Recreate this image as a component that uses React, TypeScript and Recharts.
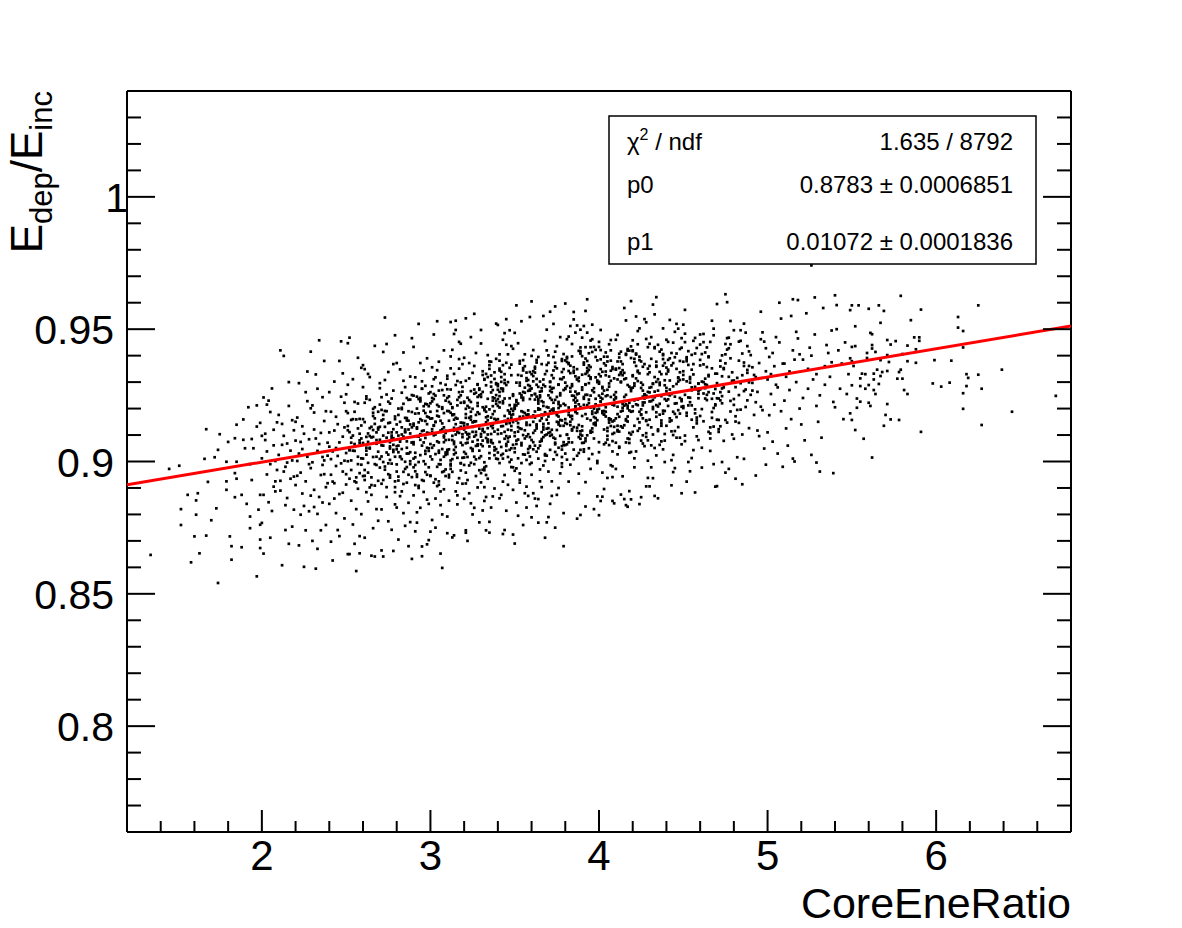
import { ScatterChart, Scatter, XAxis, YAxis } from 'recharts'

const FONT = '"Liberation Sans", Arial, Helvetica, sans-serif'

// axis ticks: minor every 0.2 / 0.01, labelled majors
const xTicks = [1.4, 1.6, 1.8, 2, 2.2, 2.4, 2.6, 2.8, 3, 3.2, 3.4, 3.6, 3.8, 4, 4.2, 4.4, 4.6, 4.8, 5, 5.2, 5.4, 5.6, 5.8, 6, 6.2, 6.4, 6.6]
const xLabels = [2, 3, 4, 5, 6]
const yTicks = [0.77, 0.78, 0.79, 0.8, 0.81, 0.82, 0.83, 0.84, 0.85, 0.86, 0.87, 0.88, 0.89, 0.9, 0.91, 0.92, 0.93, 0.94, 0.95, 0.96, 0.97, 0.98, 0.99, 1, 1.01, 1.02, 1.03]
const yLabels = [0.8, 0.85, 0.9, 0.95, 1]

// fit result (pol1) drawn over the full range
const fitX = [1.2, 6.8]
const fitY = [0.8912, 0.9512]

const statValues = ['1.635 / 8792', '0.8783 \u00b1 0.0006851', '0.01072 \u00b1 0.0001836']

// scatter points as flat pairs: x in 1/100, y in 1/10000
const tailLeft = [134,8647,145,8972,151,8984,156,8874,152,8820,152,8760,161,8799,162,8880,161,8853,160,8717,163,8653,158,8619,167,9122,166,9010,167,8720,168,8923,173,8823,174,9044,175,9103,170,8778,174,8541,172,9016,179,8893,179,8999,180,9074,181,8717,182,8629,179,8925,184,9088,185,9139,184,8956,185,8935,184,8865,188,8874,188,8676,189,9159,192,9205,191,8840,193,8792,194,9085,195,9050,193,8990,197,8566,197,9212,199,8705,199,8673,197,9132,194,8930,199,9146,199,8874,198,8818,199,8761,189,9082,190,9050,185,8999,182,8680,193,8748]

const cloud20 = [200,9012,201,8874,202,9105,203,8951,204,9230,205,8990,206,8813,207,9061,208,8925,209,9148,200,8768,203,9038,205,9187,207,8905,208,9002,201,8652,204,8846,206,9276,209,8968,202,9081,205,8712,207,9120,208,8887,203,9215,
210,9025,211,8890,212,9142,213,8962,214,8741,215,9068,216,9210,217,8935,218,9004,219,8818,210,9176,212,8608,213,9097,214,8980,215,8862,216,9300,217,9041,218,8754,219,9118,211,8927,213,9399,215,8996,216,8689,218,9156,219,8943,212,9063,214,8835,
227,9018,221,8946,224,9133,229,8871,220,9079,226,9262,223,8799,228,8990,225,9105,222,8683,229,9201,224,9047,220,8911,227,9340,225,8832,221,9166,228,9084,223,8958,226,8740,222,9030,229,9415,224,8879,221,9002,227,9228,225,8602,220,9150,226,8925,228,8812,223,9074,222,9296,229,8975,
233,9040,237,9153,231,8893,236,8987,230,9212,238,8760,234,9066,232,9329,239,8918,235,9108,231,8828,237,8952,233,9275,230,8700,236,9017,238,9190,234,8866,239,9071,232,8595,235,8949,237,9380,231,9121,233,8802,236,9243,230,8997,238,8903,234,9458,239,9022,232,9087,235,8740,237,9004,231,9185,236,8845,233,8670,
244,9051,248,8962,241,9188,246,8877,240,9110,243,9302,249,8785,245,9021,242,8924,247,9245,241,8697,248,9094,244,9169,240,8840,246,9380,249,9003,243,8918,245,9141,242,8626,247,8993,240,9056,248,9333,244,8805,246,9072,241,8950,249,9222,243,9117,245,8741,247,9454,242,9038,248,8882,240,9262,244,8983,246,8718,249,9129,241,9009,243,8860]

const cloud25 = [251,9118,255,8925,258,9161,252,9043,257,9125,250,9032,254,9311,259,8801,253,9090,256,8940,251,9183,258,8718,250,9254,255,9040,253,8852,257,9392,252,9111,259,8988,254,8762,256,9159,250,8913,258,9070,251,8650,255,9225,253,9004,257,8897,252,9468,259,9136,254,9041,256,8820,250,9190,258,8956,251,9290,255,8689,253,9157,257,9018,252,8935,259,9354,254,9098,256,8586,258,9080,
262,9041,266,9017,269,9188,261,8930,264,9096,268,9081,260,9281,263,8849,267,9142,265,8911,262,9237,269,8776,261,9222,266,9093,264,8902,260,9364,267,9163,263,8958,268,8820,265,9131,262,8884,269,9121,261,8712,266,9199,264,9049,260,8945,267,9437,263,9106,268,9018,265,8874,262,9246,269,8927,261,9349,266,8748,264,9126,260,9070,267,8990,263,9331,268,9067,265,8644,262,9052,266,9184,261,8946,264,9319,
276,9073,272,9159,279,8925,274,9253,270,9010,277,9098,271,8819,275,9338,278,9044,273,9191,276,8948,272,9414,279,8884,274,9090,270,9277,277,8742,271,9019,275,9145,278,9368,273,8969,276,9219,272,9060,279,9477,274,8903,270,9131,277,9238,271,8664,275,8993,278,9088,273,9308,276,8939,272,9176,279,8838,274,9444,270,8977,277,9110,271,9195,275,8774,278,9036,273,9544,276,9057,272,8998,279,9160,274,8866,270,9296,277,9081,271,8916,275,9226,
285,9121,280,8962,288,9035,283,9260,287,8844,281,9098,289,9187,284,8915,286,9052,282,9348,288,8771,280,9140,285,8999,287,9233,283,8887,289,9071,281,8705,286,9164,284,9412,282,9017,288,9106,280,8826,285,9281,287,8950,283,9129,289,8632,281,9200,286,8979,284,9088,282,8869,288,9321,280,9046,285,8757,287,9154,283,9009,289,9466,281,8928,286,9240,284,8805,282,9075,288,8990,280,9372,285,9111,287,8680,283,9198,289,8941,281,9060,286,9030,284,9305,
294,9103,298,9216,291,8987,296,9344,290,8872,293,9148,297,9040,292,8769,299,9257,295,8930,291,9181,296,9072,290,9433,294,8825,298,9109,293,8998,297,9286,292,9129,299,8703,295,9060,291,8911,296,9209,290,9011,294,9372,298,8856,293,9236,297,8960,292,9095,299,9167,295,8642,291,9318,296,8885,290,9143,294,9024,298,8950,293,9520,297,9183,292,8808,299,9050,295,9275,291,8736,296,9117,290,8978,294,9227,298,9390,293,8900,297,9089,292,9245,299,8840,295,9155,291,9033]

const cloud30 = [301,9122,305,8990,308,9250,302,9061,306,8887,300,9188,304,9345,309,8945,303,9102,307,8800,301,9227,305,9033,308,9420,302,8920,306,9154,300,8735,304,9076,309,9290,303,8860,307,9199,301,9008,305,9377,308,8963,302,9135,306,8652,300,9262,304,8907,309,9081,303,9318,307,9047,301,8779,305,9170,308,9098,302,9480,306,8835,300,9019,304,9214,309,8970,303,9150,307,8598,301,9356,305,9072,308,8895,302,9236,306,9117,300,8945,304,9530,309,9025,303,8750,307,9270,301,9163,305,8925,308,9129,
314,9127,318,8994,310,9240,316,8872,312,9352,319,9062,313,9178,317,9452,311,8950,315,9289,314,9027,318,9131,310,8792,316,9212,312,9397,319,8916,313,9097,317,9262,311,9046,315,9532,314,9158,318,8966,310,9324,316,8838,312,9184,319,9368,313,9009,317,9108,311,9246,315,8887,314,9482,318,9071,310,9191,316,9304,312,8991,319,9146,313,9422,317,8937,311,9082,315,9497,314,9044,318,9222,310,8729,316,9123,312,9272,319,9014,313,9175,317,9387,311,8852,315,9102,314,9331,318,9445,310,9037,316,9162,
322,9140,326,9018,329,9276,321,8917,325,9199,328,9081,320,9392,324,8842,327,9152,323,8985,322,9241,326,9361,329,8770,321,9110,325,9047,328,8902,320,9222,324,9470,327,9008,323,9165,322,8700,326,9272,329,9124,321,8958,325,9335,328,9060,320,8859,324,9188,327,9410,323,9092,322,8930,326,9150,329,9013,321,9305,325,8800,328,9210,320,9135,324,8995,327,9260,323,8880,322,9071,326,9558,329,9180,321,8740,325,9112,328,9290,320,9036,324,9225,327,8945,323,9372,322,9103,326,8825,329,9250,321,9165,
334,9171,338,9239,331,9058,336,9377,330,8956,333,9188,337,9126,332,8851,339,9296,335,9012,331,9263,336,9104,330,9446,334,9083,338,8898,333,9331,337,9209,332,8977,339,9251,335,8772,331,9079,336,9325,330,8921,334,9402,338,9113,333,8866,337,9230,332,9194,339,9047,335,9350,331,8815,336,9166,330,9104,334,8935,338,9312,333,9148,337,8868,332,9309,339,9157,335,8731,331,9205,336,9073,330,9497,334,9126,338,9024,333,9288,337,9069,332,8903,339,9388,335,9197,331,8969,336,8826,330,9244,334,9077,338,9337,333,8982,
347,9145,343,9266,340,9009,348,9366,344,9086,341,9204,349,8893,345,9441,342,9133,346,9300,347,9044,343,8924,340,9516,348,9175,344,9238,341,9381,349,9063,345,8814,342,9276,346,9120,347,9496,343,9011,340,9160,348,9326,344,8949,341,9224,349,9426,345,9096,342,8874,346,9193,347,9354,343,9134,340,9271,348,8979,344,9485,341,9074,349,9149,345,9289,342,9024,346,9405,347,9213,343,8726,340,9104,348,9436,344,9172,341,8994,349,9248,345,9059,342,9339,346,8912,347,9181,343,9460,340,9034,348,9118,344,9296,341,8861]

const cloud35 = [355,9170,351,9298,358,9047,353,8931,359,9236,350,9110,356,9405,352,9012,357,8826,354,9190,355,9353,351,9079,358,9267,353,8955,359,9138,350,9486,356,8880,352,9219,357,9095,354,9324,355,8760,351,9155,358,9033,353,9287,359,8990,350,9202,356,9118,352,9447,357,8905,354,9061,355,9241,351,8845,358,9176,353,9380,359,9092,350,8690,356,9260,352,9145,357,9006,354,9530,355,9027,351,9212,358,8870,353,9125,359,9338,350,8965,356,9183,352,8795,357,9305,354,9070,355,9232,351,9590,358,9103,353,8920,359,9268,350,9050,
368,9181,362,9060,365,9302,360,8950,367,9224,363,9125,369,9420,364,8858,361,9150,366,9266,368,9023,362,9358,365,9197,360,8789,367,9092,363,9245,369,9498,364,9011,361,9174,366,8903,368,9284,362,9117,365,8970,360,9330,367,9210,363,8832,369,9158,364,9395,361,9046,366,9228,368,8712,362,9189,365,9075,360,9276,367,8985,363,9140,369,9342,364,9201,361,8880,366,9085,368,9455,362,9255,365,8925,360,9168,367,9310,363,9037,369,8770,364,9236,361,9108,366,9368,368,9002,362,8860,365,9250,360,9605,367,9131,363,9290,
371,9190,377,9312,374,9071,379,9218,370,8962,376,9140,373,9395,378,9045,375,8874,372,9262,371,9111,377,9470,374,9233,379,8805,370,9170,376,9290,373,9008,378,9155,375,9352,372,8925,371,9240,377,9097,374,8750,379,9318,370,9204,376,9052,373,9520,378,8980,375,9175,372,9275,371,8840,377,9135,374,9415,379,9062,370,9250,376,8900,373,9200,378,9338,375,9025,372,9120,371,9566,377,8955,374,9185,379,9270,370,8790,376,9225,373,9090,378,9380,375,9150,372,8870,371,9300,377,9210,374,9036,379,8680,
382,9187,387,9310,384,9072,389,9417,380,9146,385,9248,388,8954,383,9512,386,9209,381,9102,382,9342,387,9022,384,9172,389,9498,380,9277,385,9130,388,8880,383,9362,386,9193,381,9462,382,9087,387,9254,384,9397,389,9044,380,9160,385,9537,388,9216,383,8988,386,9322,381,9142,382,9472,387,9182,384,9292,389,9102,380,9382,385,9232,388,9032,383,9170,386,9487,381,9285,382,8924,387,9116,384,9444,389,9206,380,9062,385,9335,388,9418,383,9137,386,9264,381,9007,382,9372,387,9514,384,9122,389,8798,
397,9200,392,9077,395,9318,390,9172,398,9422,393,9252,399,8994,394,9346,391,9512,396,9125,397,9277,392,8922,395,9156,390,9468,398,9216,393,9099,399,9382,394,9234,391,9037,396,9462,397,9144,392,9292,395,9457,390,9070,398,9184,393,9337,399,8868,394,9409,391,9214,396,9112,397,9433,392,9252,395,8972,390,9328,398,9137,393,9487,399,9187,394,9050,391,9366,396,9269,397,8820,392,9432,395,9204,390,9117,398,9395,393,9162,399,9300,394,9010,391,9237,396,9517,397,9087,392,9179,395,9357]

const cloud40 = [400,9249,404,9071,408,9357,402,8958,406,9295,409,9131,401,9421,405,8938,403,9177,407,9343,400,9035,404,9412,408,9215,402,8867,406,9161,409,9252,401,9497,405,9083,403,9191,407,8986,400,9301,404,9188,408,8982,402,9339,406,9283,409,8842,401,9227,405,9396,403,9121,407,9244,400,8797,404,9205,408,9151,402,9282,406,9062,409,9155,401,9349,405,9271,403,8896,407,9159,400,9452,404,9326,408,8941,402,9237,406,9321,409,9108,401,8851,405,9250,403,9177,407,9381,400,9073,
415,9211,411,9378,417,9087,413,9302,419,9036,410,9163,416,9407,412,9113,418,8888,414,9326,415,9137,411,9478,417,9289,413,8875,419,9188,410,9351,416,9072,412,9169,418,9419,414,8944,415,9311,411,9114,417,8829,413,9333,419,9277,410,9071,416,9533,412,9052,418,9193,414,9345,415,8858,411,9207,417,9425,413,9133,419,9266,410,8972,416,9216,412,9407,418,9033,414,9192,415,9580,411,9027,417,9201,413,9337,419,8857,410,9243,416,9155,412,9393,418,9222,
421,9231,426,9358,423,9116,428,9463,420,9190,425,9298,429,9003,422,9548,427,9252,424,9148,421,9388,426,9068,423,9213,428,9526,420,9326,425,9178,429,8938,422,9408,427,9238,424,9503,421,9135,426,9290,423,9443,428,9093,420,9208,425,8865,429,9263,422,9038,427,9368,424,9188,421,9012,426,9223,423,9338,428,9156,420,9420,425,9278,429,9080,422,9216,427,9538,424,9333,421,8978,426,9163,423,9493,428,9246,420,9112,425,9378,428,8906,
432,9233,438,9402,435,9121,430,9279,436,9063,439,9191,433,9432,437,9135,431,8978,434,9301,432,9206,438,9503,435,9311,430,8906,436,9218,439,9372,433,9051,437,9247,431,9388,434,9023,432,9295,438,9192,435,8861,430,9361,436,9298,439,9104,433,9556,437,9076,431,9228,434,9362,432,8937,438,9181,435,9441,430,9158,436,9289,439,8998,433,9243,437,9423,431,9061,434,9213,432,9593,438,9046,435,9268,430,9337,
443,9255,448,9380,440,9135,445,9490,441,9210,447,9315,444,9025,449,8880,442,9272,446,9168,443,9410,448,9090,440,9230,445,8975,441,9340,447,9194,444,8960,449,9430,442,9250,446,9520,443,9155,448,9308,440,9460,445,9115,441,9235,447,9502,444,9284,449,9065,442,9390,446,9220,443,8910,448,9240,440,9355,445,9180,441,9452,447,9302,444,9100,449,9228,442,9535,446,9350,443,9005]

const cloud45 = [454,9298,450,9377,457,9182,452,9303,459,9081,455,9212,451,9451,458,9144,453,8998,456,9329,454,9224,450,9517,457,9282,452,8924,459,9239,455,9403,451,9077,458,9273,453,9417,456,9043,454,9311,450,9209,457,8883,452,9388,459,9267,455,9158,451,9573,458,9095,453,9242,456,9368,454,8963,450,9202,457,9467,452,9173,459,9295,455,9013,451,9252,
460,9272,465,9397,462,9152,468,9502,464,9232,469,9332,461,9052,466,9040,463,9292,467,9187,460,9442,465,9112,462,9257,468,8990,464,9357,469,9212,461,8977,466,9452,463,9277,467,9532,460,9172,465,9322,462,9482,468,9132,464,9252,469,8905,461,9302,466,9087,463,9412,467,9237,460,9480,465,9262,462,9367,468,9202,
473,9276,478,9443,470,9158,475,9371,479,9102,472,9231,476,9466,471,9157,477,8972,474,9349,473,9247,478,9531,470,9296,475,8958,479,9303,472,9381,476,9147,471,9238,477,9428,474,9078,473,9322,478,9229,470,8907,475,9405,479,9337,472,9133,476,9602,471,9122,477,9264,474,9353,473,8998,
484,9296,489,9416,481,9171,486,9521,483,9251,488,9346,480,9086,485,9102,482,9316,487,9206,484,9456,489,9126,481,9281,486,9010,483,9381,488,9231,480,9496,485,9326,482,9016,487,9487,484,9196,489,9361,481,8935,486,9266,483,9146,488,9436,480,9306,
491,9297,496,9462,493,9224,499,9341,494,9117,490,9252,497,9488,492,9176,498,9049,495,9372,491,9268,496,9566,493,9319,499,8988,494,9263,490,9402,497,9194,492,9327,498,9453,495,9096,491,9356,496,9207,493,8947,499,9428]

const cloud50 = [502,9330,507,9450,504,9215,509,9370,500,9110,505,9290,508,9540,501,9175,506,9030,503,9410,502,9255,507,9600,504,9360,509,8980,500,9310,505,9470,508,9190,501,9395,506,9280,503,9075,
513,9340,518,9465,510,9230,516,9385,511,9125,517,9300,514,9550,519,9200,512,9060,515,9420,513,9270,518,9610,510,9370,516,9000,511,9320,517,9490,514,9160,519,9405,
524,9350,528,9480,521,9240,526,9400,520,9140,527,9310,523,9560,529,9210,522,9080,525,9430,524,9275,528,9620,521,9385,526,9025,529,9330,
534,9360,538,9495,531,9250,536,9410,530,9150,537,9320,533,9580,539,9225,532,9090,535,9440,534,9290,538,9375,
544,9370,547,9255,542,9420,545,9160,548,9330,541,9500,543,9275,546,9450,540,9205,549,9390]

// extra points in the dark core, close to the fit line
const dense25 = [253,9071,257,8990,251,9134,259,9012,255,9188,250,8952,258,9105,252,9043,256,8921,254,9160,259,9087,251,9001,257,9219,253,8968,255,9066,
264,9052,261,9149,268,8987,262,9093,267,9205,260,9011,265,8940,269,9128,263,9074,266,9172,261,8968,268,9110,264,9233,262,9026,267,8909,265,9091,260,9160,269,9037,263,8995,266,9119,
272,9098,276,9006,279,9170,271,9061,275,8952,278,9122,270,9215,274,9034,277,9090,273,8981,276,9147,271,9243,279,9018,275,9109,272,8930,278,9063,274,9190,270,9082,277,8992,273,9131,276,9049,279,8903,271,9155,275,9026,278,9268,
283,9102,287,9030,281,9176,285,8972,289,9129,280,9058,284,9218,288,9001,282,9083,286,9155,281,8943,285,9112,289,9251,283,9047,287,9190,280,8989,284,9094,288,9140,282,9019,286,8920,289,9072,283,9203,287,9121,281,9035,285,9165,280,9110,284,8961,288,9234,282,9150,286,9076,
294,9160,290,9065,297,9218,292,8951,299,9107,295,9275,291,9016,298,9141,293,8908,296,9192,294,9082,290,9249,297,8990,292,9124,299,9040,295,9303,291,8963,298,9170,293,9094,296,8927,294,9232,290,9136,297,9029,292,9200,299,8978,295,9115,291,9283,298,9052,293,9182,296,9001,294,9240,290,9073,297,9153,292,8942,299,9209]

const dense30 = [308,9018,302,9137,305,9268,300,9066,307,9205,303,8933,309,9116,301,9240,306,8989,304,9173,308,9091,302,9311,305,9041,300,9220,307,8960,303,9149,309,9108,301,9284,306,9006,304,9191,308,9073,302,9255,305,8912,300,9162,307,9122,303,9028,309,9230,301,9052,306,9296,304,8980,308,9183,302,9099,305,9208,300,8947,307,9144,303,9249,309,9034,301,9111,
311,9154,316,9014,313,9205,319,9103,310,9313,315,9055,318,9250,312,8972,317,9126,314,9178,311,8940,316,9233,313,9081,319,9282,310,9028,315,9141,318,8993,312,9218,317,9351,314,9066,311,9190,316,9111,313,8961,319,9264,310,9044,315,9165,318,9299,312,9004,317,9124,314,9075,311,9225,316,8920,313,9202,319,9092,310,9273,315,9033,318,9147,312,8985,317,9243,314,9117,
325,9148,321,9069,328,9221,323,9104,320,9015,327,9176,324,9266,322,9085,329,9136,326,8990,321,9199,325,9040,328,9292,320,9121,323,9232,327,9059,324,9170,329,8967,322,9103,326,9256,320,9145,328,9186,325,9075,321,9029,327,9112,323,9314,329,9041,324,9158,322,9210,326,9094,320,8987,328,9244,325,9131,321,9179,327,9100,323,9204,329,9271,324,9051,322,9017,326,9152,320,9226,328,9065,
336,9081,332,9200,339,9147,334,9319,330,9020,337,9242,331,9123,335,9364,338,9054,333,9167,336,9283,332,8967,339,9218,334,9102,330,9254,337,9138,331,9341,335,9032,338,9190,333,9089,336,9300,332,8997,339,9229,334,9156,330,9065,337,9270,331,9116,335,9378,338,9042,333,9207,336,9134,332,9312,339,9011,334,9237,330,9094,337,9179,331,9327,335,9057,338,9161,333,8949,336,9261,332,9111,339,9292,334,9073,
340,9285,345,9142,343,9220,348,9007,341,9351,346,9088,349,9178,344,9308,342,9055,347,9239,340,9120,345,9373,343,9029,348,9199,341,9263,346,9161,349,8978,344,9330,342,9106,347,9187,340,9292,345,9066,343,9228,348,9134,341,9405,346,9017,349,9254,344,9153,342,9319,347,9094,340,9210,345,9041,343,9275,348,9165,341,9344,346,9075,349,9191,344,9112,342,9301,347,8998,340,9236,345,9147,343,9364,348,9050,341,9247]

const dense35 = [357,9176,353,9257,359,9053,350,9206,355,9344,352,9130,358,9289,354,8994,351,9225,356,9087,357,9315,353,9161,359,9272,350,9035,355,9383,352,9113,358,9193,354,9242,351,9066,356,9360,357,9147,353,9298,359,9019,350,9214,355,9100,352,9327,358,9178,354,9251,351,8974,356,9279,357,9138,353,9370,359,9058,350,9199,355,9263,352,9083,358,9308,354,9123,351,9232,356,9026,357,9336,353,9169,359,9285,350,9096,355,9187,
364,9228,369,9102,361,9341,366,9177,362,9255,368,9028,360,9399,365,9154,363,9312,367,9121,364,9196,369,9365,361,9073,366,9277,362,9166,368,9330,360,8995,365,9243,363,9134,367,9290,364,9050,369,9206,361,9421,366,9111,362,9351,368,9186,360,9081,365,9264,363,9384,367,9142,364,9219,369,9022,361,9303,366,9163,362,9336,368,9099,360,9250,365,9060,363,9374,367,9175,364,9282,369,9124,361,9323,366,9078,362,9234,
370,9144,376,9217,373,9344,378,9058,371,9282,375,9180,379,9406,372,9101,377,9250,374,9373,370,9126,376,9202,373,9315,378,9017,371,9267,375,9436,379,9073,372,9233,377,9157,374,9358,370,9108,376,9291,373,9191,378,9387,371,9044,375,9244,379,9135,372,9326,377,9211,374,9086,370,9401,376,9170,373,9278,378,8993,371,9302,375,9119,379,9349,372,9196,377,9258,374,9065,370,9373,376,9148,373,9222,378,9311,371,9097,
388,9304,383,9172,386,9223,381,9065,389,9408,384,9117,380,9274,387,9349,382,9204,385,9009,388,9317,383,9150,386,9241,381,9390,389,9086,384,9285,380,9213,387,9128,382,9368,385,9045,388,9257,383,9334,386,9187,381,9101,389,9431,384,9160,380,9298,387,9230,382,9073,385,9343,388,9138,383,9264,386,9197,381,9376,389,9114,384,9249,380,9030,387,9312,382,9176,385,9356,388,9092,383,9278,386,9208,381,9395,
395,9109,390,9280,397,9205,392,9389,399,9156,394,9324,391,9046,398,9237,393,9353,396,9180,395,9432,390,9133,397,9262,392,9087,399,9306,394,9221,391,9374,398,9164,393,9341,396,9028,395,9249,390,9398,397,9141,392,9290,399,9196,394,9363,391,9071,398,9318,393,9213,396,9414,395,9116,390,9271,397,9168,392,9331,399,9002,394,9296,391,9244,398,9147,393,9380,396,9189,395,9312,390,9098]

const dense40 = [402,9256,407,9134,405,9378,400,9199,409,9314,403,9065,406,9443,401,9226,408,9349,404,9170,402,9277,407,9420,405,9097,400,9330,409,9212,403,9396,406,9147,401,9241,408,9038,404,9363,402,9183,407,9305,405,9115,400,9433,409,9234,403,9268,406,9156,401,9386,408,9077,404,9340,402,9190,407,9459,405,9127,400,9294,409,9221,403,9371,406,9163,401,9322,408,9104,404,9247,
416,9160,411,9310,419,9102,414,9368,410,9239,417,9419,413,9189,418,9283,412,9056,415,9335,416,9252,411,9135,419,9391,414,9217,410,9460,417,9170,413,9299,418,9085,412,9353,415,9228,416,9314,411,9119,419,9435,414,9203,410,9262,417,9151,413,9378,418,9070,412,9327,415,9244,416,9403,411,9179,419,9274,414,9128,410,9347,417,9211,413,9415,418,9108,
423,9304,429,9138,426,9268,420,9417,428,9186,422,9361,425,9079,421,9286,427,9223,424,9396,423,9161,429,9330,426,9245,420,9458,428,9107,422,9314,425,9197,421,9375,427,9254,424,9125,423,9343,429,9432,426,9212,420,9279,428,9153,422,9404,425,9176,421,9295,427,9058,424,9383,423,9234,429,9351,426,9099,420,9322,428,9249,
439,9236,434,9377,431,9129,437,9330,433,9264,430,9445,436,9177,432,9293,438,9406,435,9208,439,9079,434,9358,431,9281,437,9155,433,9428,430,9227,436,9339,432,9102,438,9387,435,9250,439,9307,434,9186,431,9470,437,9144,433,9319,430,9261,436,9415,432,9198,438,9362,435,9115,439,9288,434,9169,
441,9347,445,9219,448,9425,442,9151,446,9293,440,9265,449,9466,444,9188,447,9318,443,9114,441,9384,445,9245,448,9337,442,9163,446,9408,440,9278,449,9207,444,9449,447,9130,443,9363,441,9254,445,9394,448,9181,442,9306,446,9090,440,9331,449,9235,444,9372]

const dense45 = [455,9269,452,9379,458,9155,450,9327,456,9456,453,9212,459,9294,451,9098,457,9408,454,9241,455,9347,452,9184,458,9429,450,9310,456,9129,453,9365,459,9256,451,9483,457,9197,454,9319,455,9280,452,9394,458,9166,450,9341,
467,9352,461,9198,464,9431,469,9274,462,9300,466,9129,460,9384,468,9477,463,9238,465,9327,467,9165,461,9406,464,9289,469,9216,462,9451,466,9106,460,9363,468,9257,463,9313,465,9394,
472,9262,478,9390,475,9157,470,9332,477,9468,473,9220,479,9305,471,9112,476,9423,474,9280,472,9359,478,9189,475,9444,470,9239,477,9320,473,9401,
486,9374,480,9236,483,9453,489,9299,481,9151,485,9408,488,9335,482,9195,484,9496,487,9272,486,9361,480,9214]

const tailRight = [550,9590,554,9590,566,9590,579,9626,560,9577,569,9569,591,9574,625,9590,613,9546,613,9506,616,9493,585,9534,567,9524,552,9511,561,9486,562,9481,549,9572,587,9469,590,9469,590,9456,571,9459,576,9455,573,9442,562,9440,562,9427,552,9436,550,9433,583,9438,588,9424,564,9414,559,9410,571,9402,580,9406,616,9431,559,9391,550,9379,567,9383,572,9376,583,9379,588,9373,599,9383,609,9381,639,9347,551,9361,565,9347,556,9332,558,9330,563,9332,568,9338,571,9342,578,9338,579,9347,567,9323,555,9314,563,9310,577,9313,580,9313,618,9330,619,9316,625,9328,598,9295,603,9283,608,9298,550,9288,555,9285,560,9289,566,9293,558,9275,563,9270,581,9270,583,9255,564,9255,618,9285,627,9275,616,9258,671,9248,553,9238,555,9226,560,9222,561,9210,571,9217,553,9203,616,9199,645,9188,549,9182,570,9176,573,9159,578,9157,550,9157,569,9135,627,9138,552,9119,591,9112,557,9086,562,9015]

const edgePoints = [526,9741,540,9628,539,8956,531,8962,485,8914,515,9011,529,8996,408,8851,416,8835,424,8839,433,8870,252,8650,258,8653,267,8641,272,8641,278,8662,295,8679,298,8687,313,8713,314,8721,321,8731,333,8740,344,8741,349,8724,364,8769,387,8784,392,8830,251,9447,312,9527,321,9541,339,9521,345,9538,359,9546,367,9550,374,9586,380,9597,393,9613,392,9569,385,9565,475,9632,434,9621,419,9606,515,9613,541,9591,470,9595,211,9420,201,9242,200,9097]

const toPoints = (flat: number[]) => {
  const out: { x: number; y: number }[] = []
  for (let i = 0; i < flat.length; i += 2) out.push({ x: flat[i] / 100, y: flat[i + 1] / 10000 })
  return out
}

const points = [
  tailLeft, cloud20, cloud25, cloud30, cloud35, cloud40, cloud45, cloud50,
  dense25, dense30, dense35, dense40, dense45, tailRight, edgePoints,
].flatMap(toPoints)
const fitLine = fitX.map((x, i) => ({ x, y: fitY[i] }))

const isMajor = (list: number[], v: number) => list.some(m => Math.abs(m - v) < 1e-6)

const BottomTick = ({ x, y, payload }: any) => {
  const major = isMajor(xLabels, payload.value)
  return (
    <g>
      <line x1={x} x2={x} y1={y} y2={y - (major ? 22 : 11)} stroke="#000" strokeWidth={2} />
      {major && (
        <text x={x} y={y + 38} textAnchor="middle" fontSize={42} fontFamily={FONT} fill="#000">{payload.value}</text>
      )}
    </g>
  )
}

const TopTick = ({ x, y, payload }: any) => {
  const major = isMajor(xLabels, payload.value)
  return <line x1={x} x2={x} y1={y} y2={y + (major ? 22 : 11)} stroke="#000" strokeWidth={2} />
}

const LeftTick = ({ x, y, payload }: any) => {
  const v = payload.value
  const major = isMajor(yLabels, v)
  // ROOT puts the lone "1" a bit further right than the decimals
  const lx = v === 1 ? x + 1 : x - 13
  return (
    <g>
      <line x1={x} x2={x + (major ? 28 : 14)} y1={y} y2={y} stroke="#000" strokeWidth={2} />
      {major && (
        <text x={lx} y={y + 15} textAnchor="end" fontSize={41} fontFamily={FONT} fill="#000">{v}</text>
      )}
    </g>
  )
}

const RightTick = ({ x, y, payload }: any) => {
  const major = isMajor(yLabels, payload.value)
  return <line x1={x} x2={x - (major ? 28 : 14)} y1={y} y2={y} stroke="#000" strokeWidth={2} />
}

const Dot = (p: any) => <rect x={p.cx - 1.35} y={p.cy - 1.35} width={2.7} height={2.7} fill="#000" />

const frame = { stroke: '#000', strokeWidth: 2 }

export default function App() {
  return (
    <div style={{ position: 'absolute', left: 0, top: 0, width: 1182, height: 928, background: '#fff' }}>
      <ScatterChart width={1182} height={928} margin={{ top: 90, right: 110, bottom: 95, left: 126 }}>
        <XAxis xAxisId="b" type="number" dataKey="x" domain={[1.2, 6.8]} allowDataOverflow ticks={xTicks} interval={0}
          height={1} tickSize={0} tickMargin={0} tickLine={false} tick={BottomTick} axisLine={frame} />
        <XAxis xAxisId="t" orientation="top" type="number" domain={[1.2, 6.8]} allowDataOverflow ticks={xTicks} interval={0}
          height={1} tickSize={0} tickMargin={0} tickLine={false} tick={TopTick} axisLine={frame} />
        <YAxis yAxisId="l" type="number" dataKey="y" domain={[0.76, 1.04]} allowDataOverflow ticks={yTicks} interval={0}
          width={1} tickSize={0} tickMargin={0} tickLine={false} tick={LeftTick} axisLine={frame} />
        <YAxis yAxisId="r" orientation="right" type="number" domain={[0.76, 1.04]} allowDataOverflow ticks={yTicks} interval={0}
          width={1} tickSize={0} tickMargin={0} tickLine={false} tick={RightTick} axisLine={frame} />
        <Scatter data={points} xAxisId="b" yAxisId="l" shape={Dot} isAnimationActive={false} />
        <Scatter data={fitLine} xAxisId="b" yAxisId="l" line={{ stroke: '#ff0000', strokeWidth: 3 }} shape={() => <g />} isAnimationActive={false} />
      </ScatterChart>

      {/* titles and fit statistics box */}
      <svg width={1182} height={928} style={{ position: 'absolute', left: 0, top: 0, pointerEvents: 'none' }} fontFamily={FONT} fill="#000">
        <text x={1071} y={918} textAnchor="end" fontSize={43}>CoreEneRatio</text>
        <text transform="translate(42,91) rotate(-90)" textAnchor="end" fontSize={44}>
          E<tspan fontSize={31} dy={10}>dep</tspan><tspan dy={-10}>/E</tspan><tspan fontSize={31} dy={10}>inc</tspan>
        </text>

        <rect x={609} y={116} width={427} height={148} fill="#fff" stroke="#000" strokeWidth={1.5} />
        <text x={627} y={150} fontSize={24}>{'\u03c7'}<tspan fontSize={16} dy={-10}>2</tspan><tspan dy={10}> / ndf</tspan></text>
        <text x={627} y={193} fontSize={24}>p0</text>
        <text x={627} y={250} fontSize={24}>p1</text>
        <text x={1013} y={150} fontSize={24} textAnchor="end">{statValues[0]}</text>
        <text x={1013} y={193} fontSize={24} textAnchor="end">{statValues[1]}</text>
        <text x={1013} y={250} fontSize={24} textAnchor="end">{statValues[2]}</text>
      </svg>
    </div>
  )
}
